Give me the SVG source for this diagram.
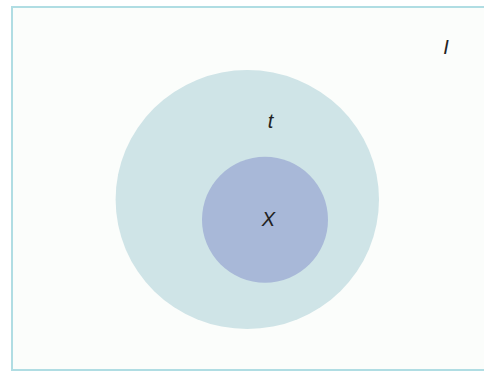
<svg xmlns="http://www.w3.org/2000/svg" width="484" height="372" viewBox="0 0 484 372">
<style>
.lbl{font-family:"Liberation Sans",Arial,sans-serif;font-style:italic;font-size:20px;fill:#222;text-anchor:middle}
</style>
<rect width="484" height="372" fill="#ffffff"/>
<g id="universe">
<rect x="12" y="7" width="480" height="363" fill="#fbfdfb" stroke="#b0dde3" stroke-width="2"/>
<text class="lbl" x="446" y="54">I</text>
</g>
<g id="t">
<ellipse cx="247.3" cy="199.6" rx="131.7" ry="129.5" fill="#cfe4e7"/>
<text class="lbl" x="270.5" y="127.5">t</text>
</g>
<g id="X">
<circle cx="265" cy="219.7" r="63" fill="#a8b8d8"/>
<text class="lbl" x="268.5" y="226">X</text>
</g>
<g id="connectors"/>
</svg>
